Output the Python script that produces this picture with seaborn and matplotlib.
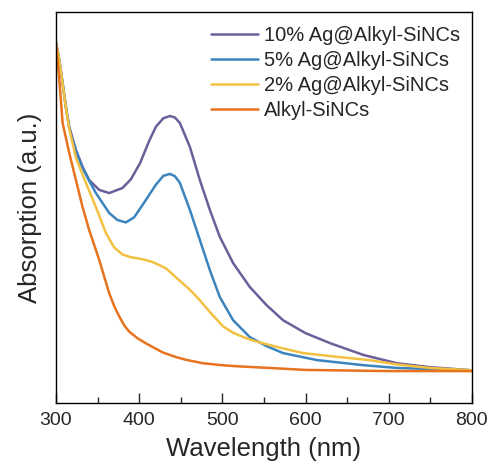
import numpy as np
import pandas as pd
import matplotlib
matplotlib.use("Agg")
import matplotlib.pyplot as plt
from matplotlib.ticker import MultipleLocator
import seaborn as sns

# --- data (absorbance, arbitrary units) ---
wl_10 = [300, 304, 308, 312, 316, 324, 332, 340, 352, 364, 380, 390, 401, 412,
         420, 429, 437, 443, 449, 461, 473, 485, 497, 513, 533, 553, 573, 600,
         630, 670, 710, 750, 800]
abs_10 = [0.921, 0.877, 0.818, 0.757, 0.706, 0.647, 0.604, 0.570, 0.545, 0.537,
          0.550, 0.572, 0.613, 0.670, 0.706, 0.728, 0.734, 0.730, 0.716, 0.655,
          0.570, 0.494, 0.425, 0.358, 0.297, 0.251, 0.212, 0.179, 0.153, 0.123,
          0.102, 0.092, 0.084]

wl_5 = [300, 304, 308, 312, 316, 324, 332, 340, 348, 364, 374, 384, 394, 408,
        420, 429, 437, 443, 449, 461, 473, 485, 497, 513, 533, 553, 573, 614,
        670, 710, 800]
abs_5 = [0.921, 0.877, 0.816, 0.754, 0.703, 0.645, 0.601, 0.568, 0.537, 0.486,
         0.468, 0.462, 0.475, 0.519, 0.558, 0.581, 0.586, 0.580, 0.563, 0.494,
         0.417, 0.340, 0.271, 0.212, 0.169, 0.146, 0.128, 0.110, 0.097, 0.090,
         0.084]

wl_2 = [300, 304, 308, 312, 316, 324, 336, 348, 360, 370, 380, 390, 404, 416,
        432, 444, 461, 473, 485, 501, 513, 525, 537, 549, 573, 597, 640, 677,
        710, 750, 800]
abs_2 = [0.921, 0.877, 0.816, 0.754, 0.701, 0.627, 0.563, 0.501, 0.435, 0.398,
         0.380, 0.373, 0.368, 0.361, 0.345, 0.322, 0.290, 0.263, 0.233, 0.196,
         0.180, 0.169, 0.160, 0.153, 0.140, 0.128, 0.118, 0.110, 0.099, 0.090,
         0.084]

wl_0 = [300, 304, 308, 316, 324, 332, 340, 352, 364, 370, 376, 382, 388, 398,
        408, 428, 444, 456, 477, 500, 520, 557, 600, 700, 800]
abs_0 = [0.921, 0.826, 0.716, 0.639, 0.570, 0.501, 0.442, 0.366, 0.281, 0.248,
         0.222, 0.199, 0.183, 0.166, 0.153, 0.130, 0.118, 0.111, 0.102, 0.097,
         0.094, 0.090, 0.085, 0.082, 0.082]

labels = ["10% Ag@Alkyl-SiNCs", "5% Ag@Alkyl-SiNCs", "2% Ag@Alkyl-SiNCs", "Alkyl-SiNCs"]
colors = ["#6d5e9a", "#3c84bd", "#f2c142", "#e8731f"]

df = pd.concat([
    pd.DataFrame({"wl": wl_10, "A": abs_10, "sample": labels[0]}),
    pd.DataFrame({"wl": wl_5, "A": abs_5, "sample": labels[1]}),
    pd.DataFrame({"wl": wl_2, "A": abs_2, "sample": labels[2]}),
    pd.DataFrame({"wl": wl_0, "A": abs_0, "sample": labels[3]}),
], ignore_index=True)

sns.set_style("ticks")
plt.rcParams["font.family"] = ["Liberation Sans", "DejaVu Sans"]

fig = plt.figure(figsize=(4.91, 4.76), dpi=100)
ax = fig.add_axes([0.114, 0.153, 0.847, 0.822])

sns.lineplot(data=df, x="wl", y="A", hue="sample", hue_order=labels,
             palette=colors, linewidth=1.8, sort=False, ax=ax)
for ln in ax.lines:
    ln.set_solid_joinstyle("round")
    ln.set_solid_capstyle("round")

ax.set_xlim(300, 800)
ax.set_ylim(0, 1.0)
ax.xaxis.set_major_locator(MultipleLocator(100))
ax.xaxis.set_minor_locator(MultipleLocator(50))
ax.tick_params(axis="x", which="major", direction="in", length=7, width=1,
               labelsize=14, pad=6)
ax.tick_params(axis="x", which="minor", direction="in", length=4, width=1)
ax.set_yticks([])
for s in ax.spines.values():
    s.set_visible(True)
    s.set_linewidth(1)
    s.set_color("black")

ax.set_xlabel("Wavelength (nm)", fontsize=18.5, labelpad=6)
ax.set_ylabel("Absorption (a.u.)", fontsize=18.5, labelpad=10)

ax.legend(frameon=False, fontsize=14.5, handlelength=2.3, handletextpad=0.3,
          labelspacing=0.3, loc="upper right", bbox_to_anchor=(1.005, 1.0),
          borderaxespad=0.3)

fig.savefig("out.png", dpi=100)
